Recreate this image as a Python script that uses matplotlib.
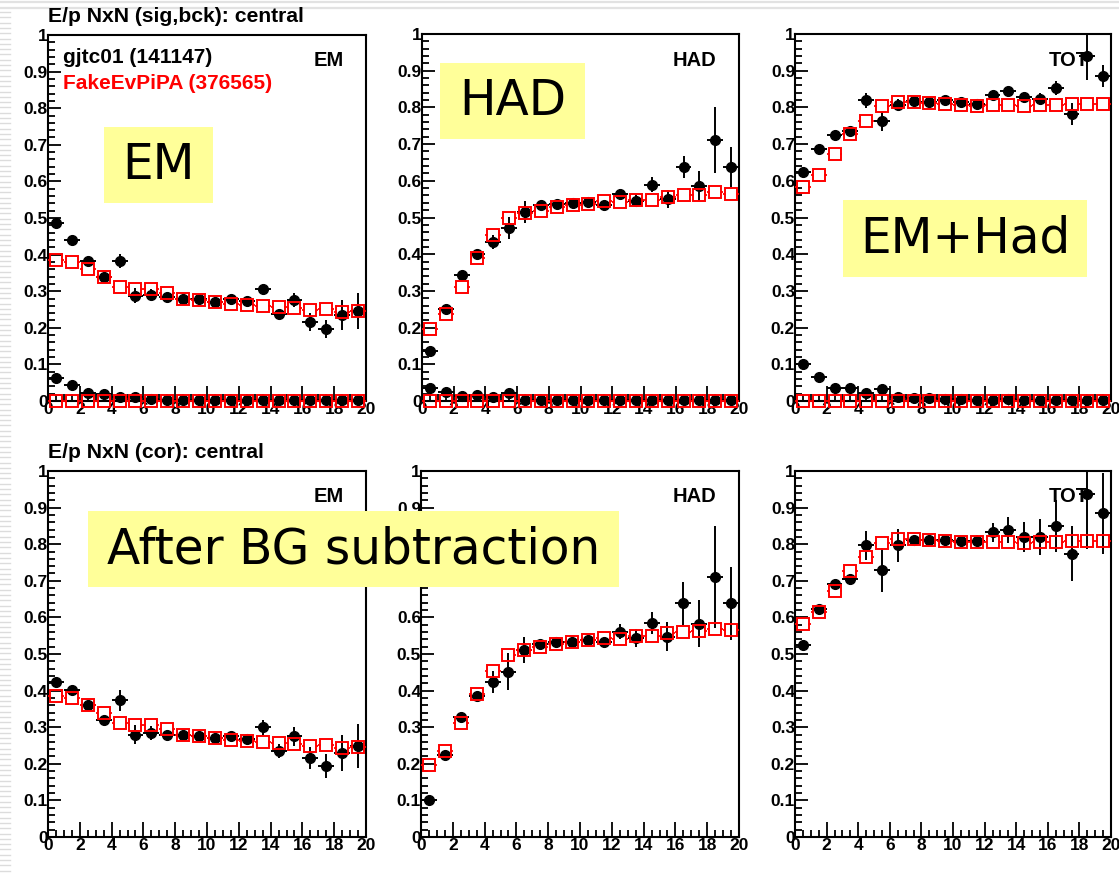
import numpy as np
import matplotlib
matplotlib.use("Agg")
import matplotlib.pyplot as plt
from matplotlib.lines import Line2D
from matplotlib.ticker import MultipleLocator, FixedLocator

# ---------------- data ----------------
x_centers = np.arange(0.5, 20.0, 1.0)
x_ticks = [0, 2, 4, 6, 8, 10, 12, 14, 16, 18, 20]
y_ticks = [0, 0.1, 0.2, 0.3, 0.4, 0.5, 0.6, 0.7, 0.8, 0.9, 1.0]
y_tick_labels = ["0", "0.1", "0.2", "0.3", "0.4", "0.5", "0.6", "0.7", "0.8", "0.9", "1"]

# top row: signal (black, data) / simulation (red)
em_sig = [0.487, 0.440, 0.383, 0.338, 0.383, 0.288, 0.290, 0.285, 0.280, 0.279,
          0.271, 0.278, 0.272, 0.305, 0.238, 0.276, 0.215, 0.196, 0.235, 0.246]
em_sig_err = [0.004, 0.004, 0.005, 0.006, 0.020, 0.020, 0.015, 0.008, 0.008, 0.008,
              0.008, 0.008, 0.010, 0.010, 0.012, 0.020, 0.025, 0.025, 0.040, 0.050]
em_bck = [0.063, 0.043, 0.023, 0.019, 0.012, 0.012, 0.006, 0.004, 0.003, 0.003,
          0.003, 0.002, 0.003, 0.004, 0.002, 0.002, 0.002, 0.003, 0.002, 0.002]
em_sim = [0.385, 0.379, 0.361, 0.338, 0.312, 0.305, 0.305, 0.294, 0.279, 0.276,
          0.270, 0.264, 0.262, 0.260, 0.256, 0.253, 0.250, 0.251, 0.244, 0.246]

had_sig = [0.137, 0.250, 0.342, 0.401, 0.433, 0.471, 0.514, 0.535, 0.536, 0.539,
           0.543, 0.535, 0.565, 0.545, 0.589, 0.550, 0.637, 0.586, 0.710, 0.637]
had_sig_err = [0.004, 0.006, 0.006, 0.008, 0.020, 0.030, 0.030, 0.010, 0.010, 0.010,
               0.010, 0.010, 0.012, 0.015, 0.020, 0.025, 0.030, 0.040, 0.090, 0.055]
had_bck = [0.036, 0.024, 0.013, 0.016, 0.012, 0.021, 0.003, 0.003, 0.002, 0.002,
           0.003, 0.002, 0.002, 0.002, 0.002, 0.002, 0.002, 0.002, 0.002, 0.002]
had_sim = [0.197, 0.236, 0.311, 0.391, 0.453, 0.498, 0.512, 0.519, 0.528, 0.533,
           0.538, 0.545, 0.542, 0.548, 0.548, 0.557, 0.560, 0.562, 0.569, 0.565]

tot_sig = [0.625, 0.686, 0.725, 0.736, 0.819, 0.762, 0.807, 0.818, 0.816, 0.819,
           0.814, 0.809, 0.835, 0.846, 0.828, 0.823, 0.853, 0.782, 0.939, 0.885]
tot_sig_err = [0.004, 0.005, 0.006, 0.008, 0.020, 0.025, 0.015, 0.008, 0.008, 0.008,
               0.008, 0.008, 0.010, 0.010, 0.012, 0.015, 0.020, 0.030, 0.065, 0.030]
tot_bck = [0.101, 0.065, 0.035, 0.035, 0.021, 0.032, 0.010, 0.008, 0.007, 0.006,
           0.005, 0.004, 0.004, 0.005, 0.003, 0.003, 0.002, 0.004, 0.002, 0.002]
tot_sim = [0.583, 0.616, 0.673, 0.727, 0.764, 0.803, 0.815, 0.814, 0.812, 0.809,
           0.807, 0.805, 0.806, 0.807, 0.803, 0.807, 0.807, 0.809, 0.810, 0.809]

# bottom row: background-subtracted
em_cor = [0.424, 0.401, 0.362, 0.321, 0.373, 0.280, 0.284, 0.280, 0.280, 0.276,
          0.270, 0.275, 0.267, 0.300, 0.235, 0.275, 0.216, 0.193, 0.230, 0.248]
em_cor_err = [0.005, 0.005, 0.006, 0.007, 0.030, 0.025, 0.020, 0.008, 0.008, 0.008,
              0.008, 0.008, 0.010, 0.020, 0.020, 0.025, 0.030, 0.033, 0.050, 0.060]
had_cor = [0.100, 0.224, 0.328, 0.385, 0.424, 0.452, 0.511, 0.528, 0.533, 0.534,
           0.538, 0.533, 0.561, 0.543, 0.586, 0.547, 0.638, 0.583, 0.710, 0.638]
had_cor_err = [0.004, 0.007, 0.007, 0.010, 0.030, 0.050, 0.035, 0.010, 0.010, 0.010,
               0.010, 0.012, 0.020, 0.025, 0.030, 0.040, 0.060, 0.065, 0.140, 0.100]
tot_cor = [0.524, 0.622, 0.690, 0.704, 0.797, 0.730, 0.797, 0.812, 0.812, 0.812,
           0.809, 0.809, 0.832, 0.839, 0.820, 0.820, 0.850, 0.774, 0.938, 0.884]
tot_cor_err = [0.004, 0.006, 0.008, 0.015, 0.040, 0.060, 0.045, 0.010, 0.010, 0.010,
               0.010, 0.015, 0.025, 0.035, 0.040, 0.050, 0.070, 0.075, 0.150, 0.110]

bck_err = 0.004

# ---------------- figure ----------------
W, H = 1119, 875
fig = plt.figure(figsize=(W / 100, H / 100), dpi=100)
fig.patch.set_facecolor("white")

ROOT = ["Liberation Sans", "DejaVu Sans"]

# slide decoration: gray lines on top and stripes at left edge
for yy in (1.5, 7.5):
    fig.add_artist(Line2D([0, 1], [1 - yy / H, 1 - yy / H], color="#e2e2e2", lw=1.6,
                          transform=fig.transFigure))
for yy in np.arange(12, H, 5.3):
    fig.add_artist(Line2D([0, 10 / W], [1 - yy / H, 1 - yy / H], color="#dcdcdc", lw=1.0,
                          transform=fig.transFigure))

panels_px = [
    (48, 366, 35, 401), (422, 739, 34, 401), (795, 1111, 34, 401),
    (48, 366, 471, 837), (421, 739, 471, 837), (795, 1111, 471, 837),
]


def make_ax(px):
    x0, x1, y0, y1 = px
    ax = fig.add_axes([x0 / W, 1 - y1 / H, (x1 - x0) / W, (y1 - y0) / H])
    ax.set_xlim(0, 20)
    ax.set_ylim(0, 1)
    ax.xaxis.set_major_locator(FixedLocator(x_ticks))
    ax.xaxis.set_minor_locator(MultipleLocator(0.5))
    ax.yaxis.set_major_locator(FixedLocator(y_ticks))
    ax.yaxis.set_minor_locator(MultipleLocator(0.02))
    ax.set_yticklabels(y_tick_labels)
    ax.tick_params(axis="x", which="major", direction="in", length=11, width=1.3,
                   top=False, pad=1)
    ax.tick_params(axis="x", which="minor", direction="in", length=5, width=1.3, top=False)
    ax.tick_params(axis="y", which="major", direction="in", length=9, width=1.3,
                   right=False, pad=0)
    ax.tick_params(axis="y", which="minor", direction="in", length=5, width=1.3, right=False)
    for lab in ax.get_xticklabels() + ax.get_yticklabels():
        lab.set_family(ROOT)
        lab.set_fontweight("bold")
        lab.set_fontsize(12.5)
    for sp in ax.spines.values():
        sp.set_linewidth(1.5)
    return ax


GAP = 0.33  # half-width of open square in x data units


def draw_sim(ax, vals, clip=True):
    v = np.asarray(vals)
    ax.hlines(v, x_centers - 0.5, x_centers - GAP, colors="red", lw=1.3, zorder=4,
              clip_on=clip)
    ax.hlines(v, x_centers + GAP, x_centers + 0.5, colors="red", lw=1.3, zorder=4,
              clip_on=clip)
    ax.plot(x_centers, v, linestyle="none", marker="s", ms=8.5, mfc="none",
            mec="red", mew=1.4, zorder=5, clip_on=clip)


def draw_data(ax, vals, errs, clip=True):
    ax.errorbar(x_centers, vals, xerr=0.5, yerr=errs, fmt="o", color="black",
                ms=7, elinewidth=1.4, capsize=0, zorder=3, clip_on=clip)


top_sets = [
    (em_sig, em_sig_err, em_bck, em_sim, "EM"),
    (had_sig, had_sig_err, had_bck, had_sim, "HAD"),
    (tot_sig, tot_sig_err, tot_bck, tot_sim, "TOT"),
]
bot_sets = [
    (em_cor, em_cor_err, em_sim, "EM"),
    (had_cor, had_cor_err, had_sim, "HAD"),
    (tot_cor, tot_cor_err, tot_sim, "TOT"),
]

zeros = np.zeros(len(x_centers))
axes = []
for i, (sig, sigerr, bck, sim, name) in enumerate(top_sets):
    ax = make_ax(panels_px[i])
    draw_data(ax, sig, sigerr)
    draw_data(ax, bck, [bck_err] * len(bck), clip=False)
    draw_sim(ax, sim)
    draw_sim(ax, zeros, clip=False)
    ax.text(0.93, 0.955, name, transform=ax.transAxes, ha="right", va="top",
            family=ROOT, fontweight="bold", fontsize=14.5, zorder=6)
    axes.append(ax)

for i, (cor, corerr, sim, name) in enumerate(bot_sets):
    ax = make_ax(panels_px[3 + i])
    draw_data(ax, cor, corerr)
    draw_sim(ax, sim)
    ax.text(0.93, 0.955, name, transform=ax.transAxes, ha="right", va="top",
            family=ROOT, fontweight="bold", fontsize=14.5, zorder=6)
    axes.append(ax)

# legend-like texts in first panel
ax0 = axes[0]
ax0.text(0.047, 0.965, "gjtc01 (141147)", transform=ax0.transAxes, ha="left", va="top",
         family=ROOT, fontweight="bold", fontsize=15, color="black")
ax0.text(0.047, 0.893, "FakeEvPiPA (376565)", transform=ax0.transAxes, ha="left", va="top",
         family=ROOT, fontweight="bold", fontsize=15, color="red")

# titles
fig.text(48 / W, 1 - 17 / H, "E/p NxN (sig,bck): central", ha="left", va="center",
         family=ROOT, fontweight="bold", fontsize=15.2)
fig.text(48 / W, 1 - 453 / H, "E/p NxN (cor): central", ha="left", va="center",
         family=ROOT, fontweight="bold", fontsize=15.2)

# yellow annotation boxes (slide overlays)
YEL = "#ffff99"


def yellow_box(x0, y0, x1, y1, text):
    rect = matplotlib.patches.Rectangle((x0 / W, 1 - y1 / H), (x1 - x0) / W, (y1 - y0) / H,
                                        transform=fig.transFigure, facecolor=YEL,
                                        edgecolor="none", zorder=20)
    fig.add_artist(rect)
    fig.text((x0 + x1) / 2 / W, 1 - (y0 + y1) / 2 / H, text, ha="center", va="center",
             family="DejaVu Sans", fontsize=35, zorder=21)


yellow_box(104, 127, 213, 203, "EM")
yellow_box(440, 63, 585, 139, "HAD")
yellow_box(843, 200, 1087, 277, "EM+Had")
yellow_box(88, 511, 619, 587, "After BG subtraction")

fig.savefig("out.png", dpi=100, facecolor="white")
